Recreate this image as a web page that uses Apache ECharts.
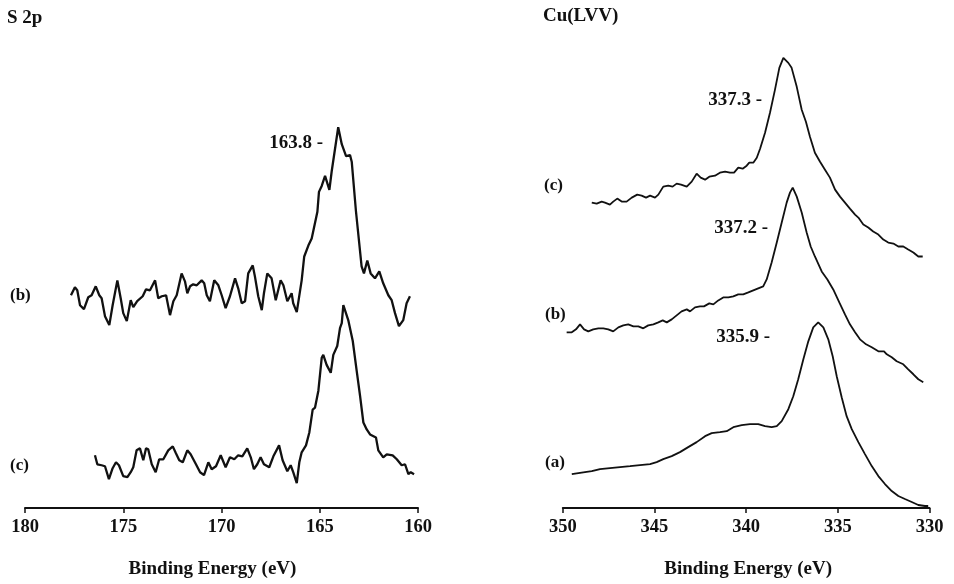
<!DOCTYPE html>
<html>
<head>
<meta charset="utf-8">
<title>S 2p and Cu(LVV) spectra</title>
<script src="https://cdn.jsdelivr.net/npm/echarts@6/dist/echarts.min.js"></script>
<style>
  html, body { margin: 0; padding: 0; background: #fff; }
  #chart { width: 954px; height: 584px; }
</style>
</head>
<body>
<div id="chart"></div>
<script>
// Binding energy ticks (eV) for each panel
const sTicks = [180, 175, 170, 165, 160];
const cuTicks = [350, 345, 340, 335, 330];

// S 2p spectra: [binding energy (eV), intensity (a.u.)]
const s2pB = [
  [177.66,214],[177.46,222],[177.34,219],[177.20,204],[177.00,200],[176.78,212],[176.61,214],[176.40,223],
  [176.22,214],[176.10,211],[175.93,193],[175.71,184],[175.54,204],[175.30,229],[175.13,211],[175.00,196],
  [174.82,188],[174.62,209],[174.49,202],[174.29,208],[174.01,213],[173.84,220],[173.64,219],[173.38,229],
  [173.22,211],[173.04,213],[172.82,214],[172.62,194],[172.45,208],[172.28,214],[172.03,236],[171.86,228],
  [171.74,216],[171.60,223],[171.44,225],[171.26,224],[171.01,229],[170.88,226],[170.75,214],[170.59,208],
  [170.37,229],[170.16,224],[169.99,214],[169.79,201],[169.57,213],[169.31,231],[169.15,221],[168.97,206],
  [168.80,208],[168.64,236],[168.41,244],[168.30,233],[168.13,213],[167.95,199],[167.84,216],[167.67,236],
  [167.45,231],[167.24,209],[166.99,229],[166.85,224],[166.65,208],[166.43,216],[166.35,206],[166.17,197],
  [165.92,229],[165.79,253],[165.58,264],[165.41,271],[165.12,298],[165.04,318],[164.90,324],[164.73,334],
  [164.51,320],[164.39,339],[164.06,383],[163.88,366],[163.66,354],[163.46,355],[163.37,348],[163.16,299],
  [162.87,243],[162.75,236],[162.58,249],[162.41,236],[162.19,231],[161.97,238],[161.77,226],[161.51,214],
  [161.34,209],[161.17,196],[160.97,183],[160.75,189],[160.58,206],[160.41,213]
];
const s2pC = [
  [176.44,53],[176.32,44],[176.10,43],[175.93,42],[175.84,40],[175.73,29],[175.54,40],[175.37,46],
  [175.22,43],[175.00,32],[174.79,31],[174.62,36],[174.49,41],[174.32,58],[174.15,60],[173.98,48],
  [173.84,60],[173.73,59],[173.55,44],[173.35,36],[173.17,49],[172.96,49],[172.71,58],[172.48,62],
  [172.32,55],[172.15,48],[171.97,46],[171.74,58],[171.57,54],[171.30,44],[171.09,36],[170.89,33],
  [170.67,46],[170.50,39],[170.28,42],[170.04,53],[169.79,41],[169.57,51],[169.35,49],[169.15,53],
  [168.94,52],[168.69,60],[168.51,51],[168.35,39],[168.18,44],[168.01,51],[167.84,44],[167.57,41],
  [167.36,52],[167.07,63],[166.89,48],[166.65,37],[166.48,43],[166.35,36],[166.17,25],[166.04,46],
  [165.92,56],[165.70,63],[165.53,76],[165.36,99],[165.24,101],[165.07,118],[164.90,151],[164.82,154],
  [164.65,144],[164.44,136],[164.31,154],[164.11,163],[163.97,181],[163.88,186],[163.80,204],[163.55,189],
  [163.32,168],[163.12,138],[162.95,113],[162.78,86],[162.61,79],[162.44,74],[162.14,71],[162.02,58],
  [161.77,51],[161.59,54],[161.29,53],[161.08,49],[160.83,43],[160.66,44],[160.49,34],[160.37,36],
  [160.20,34]
];

// Cu(LVV) spectra: [binding energy (eV), intensity (a.u.)]
const cuC = [
  [348.42,306],[348.15,305],[347.88,307],[347.70,306],[347.43,304],[347.25,307],[347.03,310],[346.79,307],
  [346.52,307],[346.24,311],[345.94,314],[345.70,313],[345.46,311],[345.24,313],[344.97,311],[344.79,314],
  [344.52,322],[344.25,323],[344.01,322],[343.79,325],[343.55,324],[343.24,322],[342.97,327],[342.70,335],
  [342.48,331],[342.24,329],[342.01,332],[341.70,333],[341.43,336],[341.15,337],[340.88,336],[340.66,336],
  [340.43,341],[340.19,340],[339.97,343],[339.83,346],[339.61,346],[339.42,351],[339.24,360],[338.97,376],
  [338.70,396],[338.43,419],[338.19,441],[337.97,451],[337.70,446],[337.52,441],[337.24,422],[336.97,399],
  [336.74,387],[336.52,372],[336.25,356],[335.97,347],[335.70,339],[335.43,331],[335.15,319],[334.88,312],
  [334.61,306],[334.34,300],[334.06,294],[333.88,291],[333.61,284],[333.34,281],[333.07,277],[332.79,274],
  [332.52,269],[332.25,266],[331.97,265],[331.70,262],[331.43,262],[331.16,259],[330.88,256],[330.61,252],
  [330.37,252]
];
const cuB = [
  [349.79,176],[349.51,176],[349.28,179],[349.06,184],[348.84,179],[348.61,177],[348.34,179],[348.06,180],
  [347.79,180],[347.52,179],[347.25,177],[346.97,181],[346.70,183],[346.43,184],[346.15,182],[345.88,182],
  [345.61,180],[345.34,183],[345.06,184],[344.79,186],[344.55,188],[344.33,186],[344.06,189],[343.79,193],
  [343.52,197],[343.24,199],[343.06,197],[342.79,201],[342.52,202],[342.30,202],[342.01,205],[341.79,204],
  [341.52,208],[341.25,211],[340.97,211],[340.70,212],[340.43,214],[340.16,214],[339.88,216],[339.61,218],
  [339.34,220],[339.07,222],[338.88,229],[338.61,246],[338.33,266],[338.06,286],[337.79,306],[337.61,316],
  [337.46,321],[337.24,312],[336.97,296],[336.70,276],[336.48,262],[336.25,252],[335.88,237],[335.57,229],
  [335.25,219],[334.92,206],[334.61,194],[334.34,184],[334.06,176],[333.79,169],[333.46,164],[333.15,161],
  [332.79,157],[332.48,157],[332.33,154],[332.06,151],[331.79,147],[331.43,144],[331.16,139],[330.88,134],
  [330.61,129],[330.34,126]
];
const cuA = [
  [349.51,34],[349.15,35],[348.79,36],[348.42,37],[347.97,39],[347.43,40],[346.88,41],[346.33,42],
  [345.79,43],[345.24,44],[344.88,46],[344.52,49],[344.06,52],[343.61,56],[343.16,61],[342.70,66],
  [342.24,72],[341.88,75],[341.43,76],[341.06,77],[340.70,81],[340.24,83],[339.79,84],[339.34,84],
  [338.97,82],[338.61,81],[338.33,82],[338.06,87],[337.70,99],[337.43,112],[337.16,129],[336.88,149],
  [336.61,167],[336.34,181],[336.07,186],[335.79,181],[335.52,169],[335.28,152],[335.06,132],[334.79,111],
  [334.52,92],[334.24,79],[333.88,66],[333.52,54],[333.15,42],[332.79,32],[332.43,24],[332.06,17],
  [331.70,12],[331.34,9],[330.97,6],[330.61,3],[330.25,2],[330.07,2]
];

// Panel headings, trace tags and peak positions
const panelTitles = ['S 2p', 'Cu(LVV)'];
const sTraceTags = ['(b)', '(c)'];
const cuTraceTags = ['(c)', '(b)', '(a)'];
const sPeakLabels = ['163.8'];
const cuPeakLabels = ['337.3', '337.2', '335.9'];

const FONT = '"Liberation Serif", "Times New Roman", serif';
const INK = '#111';

function txt(str, x, y, size, align) {
  return {
    type: 'text', x: x, y: y,
    style: {
      text: str, fontFamily: FONT, fontWeight: 'bold', fontSize: size, fill: INK,
      textAlign: align || 'left', textVerticalAlign: 'middle'
    }
  };
}

function xAxisFor(gridIndex, ticks, namePad) {
  return {
    type: 'value', gridIndex: gridIndex, inverse: true,
    min: Math.min.apply(null, ticks), max: Math.max.apply(null, ticks), interval: 5,
    name: 'Binding Energy (eV)', nameLocation: 'middle', nameGap: 52,
    nameTextStyle: { fontFamily: FONT, fontWeight: 'bold', fontSize: 19, color: INK, padding: namePad },
    axisLine: { show: true, onZero: false, lineStyle: { color: INK, width: 2 } },
    axisTick: { show: true, inside: false, length: 5, lineStyle: { color: INK, width: 1.5 } },
    axisLabel: { margin: 10, fontFamily: FONT, fontWeight: 'bold', fontSize: 18.5, color: INK,
                 showMinLabel: true, showMaxLabel: true },
    splitLine: { show: false }
  };
}

function lineSeries(data, xi, width) {
  return {
    type: 'line', xAxisIndex: xi, yAxisIndex: xi, data: data,
    showSymbol: false, smooth: false, silent: true,
    lineStyle: { color: INK, width: width }
  };
}

const chart = echarts.init(document.getElementById('chart'), null, { renderer: 'canvas' });
chart.setOption({
  animation: false,
  backgroundColor: '#fff',
  grid: [
    { left: 25, top: 0, width: 393, height: 511 },
    { left: 562.8, top: 0, width: 366.7, height: 509 }
  ],
  xAxis: [xAxisFor(0, sTicks, [0, 18, 0, 0]), xAxisFor(1, cuTicks, [0, 0, 0, 4])],
  yAxis: [
    { type: 'value', gridIndex: 0, min: 0, max: 511, show: false },
    { type: 'value', gridIndex: 1, min: 0, max: 509, show: false }
  ],
  series: [
    lineSeries(s2pB, 0, 2.3),
    lineSeries(s2pC, 0, 2.3),
    lineSeries(cuC, 1, 1.8),
    lineSeries(cuB, 1, 1.8),
    lineSeries(cuA, 1, 1.8)
  ],
  graphic: [
    txt(panelTitles[0], 7, 18, 19),
    txt(panelTitles[1], 543, 16, 19),
    txt(sTraceTags[0], 10, 296, 17),
    txt(sTraceTags[1], 10, 466, 17),
    txt(cuTraceTags[0], 544, 186, 17),
    txt(cuTraceTags[1], 545, 315, 17),
    txt(cuTraceTags[2], 545, 463, 17),
    txt(sPeakLabels[0] + ' -', 323, 143, 19, 'right'),
    txt(cuPeakLabels[0] + ' -', 762, 100, 19, 'right'),
    txt(cuPeakLabels[1] + ' -', 768, 228, 19, 'right'),
    txt(cuPeakLabels[2] + ' -', 770, 337, 19, 'right')
  ]
});
</script>
</body>
</html>
